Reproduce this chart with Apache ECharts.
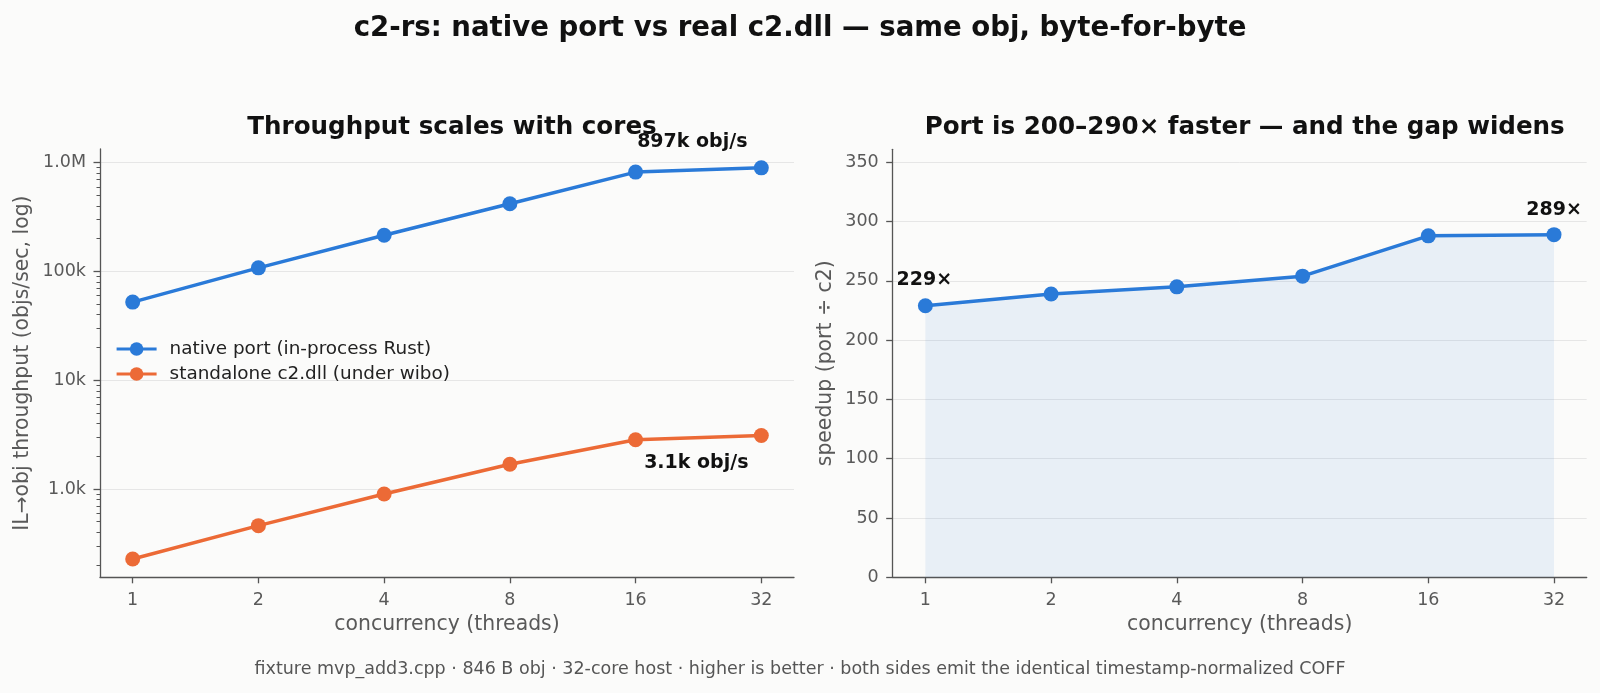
<!DOCTYPE html>
<html><head><meta charset="utf-8">
<script src="https://cdn.jsdelivr.net/npm/echarts@6/dist/echarts.min.js"></script>
<style>html,body{margin:0;padding:0;background:#fbfbfa}#c{width:1600px;height:693px}</style>
</head><body><div id="c"></div>
<script>
// ---- data ----
const threads = [1, 2, 4, 8, 16, 32];
const nativeThroughput = [52300, 108000, 215000, 420000, 820000, 897000];
const c2Throughput = [227, 460, 900, 1690, 2840, 3100];
const speedup = [229, 239, 245, 254, 288, 289];
const throughputTicks = [1000, 10000, 100000, 1000000];
const throughputTickLabels = ['1.0k', '10k', '100k', '1.0M'];
const speedupTicks = [0, 50, 100, 150, 200, 250, 300, 350];
const seriesNames = ['native port (in-process Rust)', 'standalone c2.dll (under wibo)'];

// ---- style ----
const FONT = 'DejaVu Sans';
const BLUE = '#2a7ad8';
const ORANGE = '#ec6a36';
const AXIS = '#555555';
const GRID = '#e6e6e6';
const TICKC = '#595959';

const lg2 = v => Math.log2(v);
const lg10 = v => Math.log10(v);
const xMin = -0.26, xMax = 5.26;
const yLogMin = 2.188, yLogMax = 6.126;

// minor log ticks (axis decoration)
const minorTicks = [];
for (let d = 100; d <= 1000000; d *= 10) {
  for (let m = 2; m <= 9; m++) {
    const v = lg10(d * m);
    if (v > yLogMin && v < yLogMax) minorTicks.push(v);
  }
}

const xTickVals = threads.map(lg2);

function xAxisCfg(gridIndex) {
  return {
    type: 'value', gridIndex, min: xMin, max: xMax,
    name: 'concurrency (threads)', nameLocation: 'middle', nameGap: 37,
    nameTextStyle: { fontFamily: FONT, fontSize: 20.4, color: TICKC },
    axisLine: { show: true, onZero: false, lineStyle: { color: AXIS, width: 1.3 } },
    axisTick: { show: true, customValues: xTickVals, length: 6, lineStyle: { color: AXIS, width: 1.3 } },
    axisLabel: { customValues: xTickVals, margin: 14.5, fontFamily: FONT, fontSize: 17.5, color: TICKC,
      formatter: v => String(threads[xTickVals.findIndex(t => Math.abs(t - v) < 1e-6)]) },
    splitLine: { show: false }
  };
}

const chart = echarts.init(document.getElementById('c'), null, { renderer: 'canvas' });
const option = {
  backgroundColor: '#fbfbfa',
  animation: false,
  title: [
    { text: 'c2-rs: native port vs real c2.dll — same obj, byte-for-byte', left: 'center', top: 10,
      textStyle: { fontFamily: FONT, fontSize: 27.6, fontWeight: 'bold', color: '#111' } },
    { text: 'Throughput scales with cores', left: 447, textAlign: 'center', top: 110,
      textStyle: { fontFamily: FONT, fontSize: 24.6, fontWeight: 'bold', color: '#111' } },
    { text: 'Port is 200–290× faster — and the gap widens', left: 1239.7, textAlign: 'center', top: 110,
      textStyle: { fontFamily: FONT, fontSize: 24.6, fontWeight: 'bold', color: '#111' } },
    { text: 'fixture mvp_add3.cpp · 846 B obj · 32-core host · higher is better · both sides emit the identical timestamp-normalized COFF',
      left: 'center', top: 655, textStyle: { fontFamily: FONT, fontSize: 17.5, fontWeight: 'normal', color: '#555' } }
  ],
  legend: {
    data: seriesNames, orient: 'vertical', left: 115, top: 340, padding: 0,
    itemWidth: 40, itemHeight: 17, itemGap: 7,
    lineStyle: { width: 3.2 },
    textStyle: { fontFamily: FONT, fontSize: 18.4, color: '#222', padding: [0, 0, 0, 8] }
  },
  grid: [
    { left: 100, top: 149, width: 694, height: 428.3, containLabel: false },
    { left: 892.7, top: 149.3, width: 694, height: 428, containLabel: false }
  ],
  xAxis: [xAxisCfg(0), xAxisCfg(1)],
  yAxis: [
    {
      type: 'value', gridIndex: 0, min: yLogMin, max: yLogMax, position: 'left',
      name: 'IL→obj throughput (objs/sec, log)', nameLocation: 'middle', nameGap: 67,
      nameTextStyle: { fontFamily: FONT, fontSize: 20.4, color: TICKC },
      axisLine: { show: true, onZero: false, lineStyle: { color: AXIS, width: 1.3 } },
      axisTick: { show: true, customValues: throughputTicks.map(lg10), length: 6.5, lineStyle: { color: AXIS, width: 1.3 } },
      axisLabel: { customValues: throughputTicks.map(lg10), margin: 14, fontFamily: FONT, fontSize: 17.5, color: TICKC,
        formatter: v => throughputTickLabels[throughputTicks.findIndex(t => Math.abs(lg10(t) - v) < 1e-6)] },
      splitLine: { show: true, lineStyle: { color: GRID, width: 1 } }
    },
    {
      type: 'value', gridIndex: 0, min: yLogMin, max: yLogMax, position: 'left', offset: 0,
      axisLine: { show: false, onZero: false },
      axisTick: { show: true, customValues: minorTicks, length: 3.5, lineStyle: { color: AXIS, width: 1 } },
      axisLabel: { show: false },
      splitLine: { show: false }
    },
    {
      type: 'value', gridIndex: 1, min: 0, max: 361, position: 'left',
      name: 'speedup (port ÷ c2)', nameLocation: 'middle', nameGap: 56.5,
      nameTextStyle: { fontFamily: FONT, fontSize: 20.4, color: TICKC },
      axisLine: { show: true, onZero: false, lineStyle: { color: AXIS, width: 1.3 } },
      axisTick: { show: true, customValues: speedupTicks, length: 6.5, lineStyle: { color: AXIS, width: 1.3 } },
      axisLabel: { customValues: speedupTicks, margin: 14, fontFamily: FONT, fontSize: 17.5, color: TICKC },
      splitLine: { show: true, lineStyle: { color: GRID, width: 1 } }
    }
  ],
  series: [
    {
      name: seriesNames[0], type: 'line', xAxisIndex: 0, yAxisIndex: 0,
      symbol: 'circle', symbolSize: 15, color: BLUE,
      lineStyle: { width: 3.5, color: BLUE }, itemStyle: { color: BLUE },
      data: threads.map((t, i) => {
        const d = { value: [lg2(t), lg10(nativeThroughput[i])] };
        if (i === threads.length - 1) d.label = {
          show: true, position: 'inside', offset: [-69, -26],
          formatter: () => Math.round(nativeThroughput[i] / 1000) + 'k obj/s',
          fontFamily: FONT, fontSize: 19, fontWeight: 'bold', color: '#111'
        };
        return d;
      }),
      z: 3
    },
    {
      name: seriesNames[1], type: 'line', xAxisIndex: 0, yAxisIndex: 0,
      symbol: 'circle', symbolSize: 15, color: ORANGE,
      lineStyle: { width: 3.5, color: ORANGE }, itemStyle: { color: ORANGE },
      data: threads.map((t, i) => {
        const d = { value: [lg2(t), lg10(c2Throughput[i])] };
        if (i === threads.length - 1) d.label = {
          show: true, position: 'inside', offset: [-65, 28],
          formatter: () => (c2Throughput[i] / 1000).toFixed(1) + 'k obj/s',
          fontFamily: FONT, fontSize: 19, fontWeight: 'bold', color: '#111'
        };
        return d;
      }),
      z: 3
    },
    {
      name: 'speedup', type: 'line', xAxisIndex: 1, yAxisIndex: 2,
      symbol: 'circle', symbolSize: 15, color: BLUE,
      lineStyle: { width: 3.5, color: BLUE }, itemStyle: { color: BLUE },
      areaStyle: { color: BLUE, opacity: 0.09, origin: 'start' },
      data: threads.map((t, i) => {
        const d = { value: [lg2(t), speedup[i]] };
        if (i === 0 || i === threads.length - 1) d.label = {
          show: true, position: 'inside', offset: [i === 0 ? -1 : 0, i === 0 ? -26 : -25],
          formatter: () => speedup[i] + '×',
          fontFamily: FONT, fontSize: 19, fontWeight: 'bold', color: '#111'
        };
        return d;
      }),
      z: 3
    }
  ]
};
chart.setOption(option);
</script>
</body></html>
